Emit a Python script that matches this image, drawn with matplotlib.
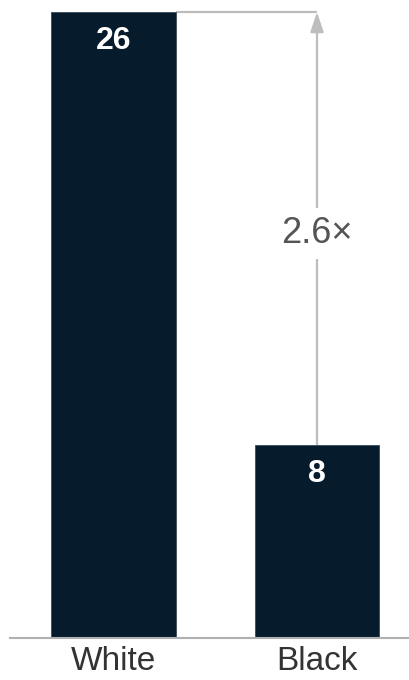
import matplotlib
matplotlib.use("Agg")
import matplotlib.pyplot as plt

categories = ["White", "Black"]
values = [26, 8]
ratio_label = "2.6×"

plt.rcParams['font.family'] = ['Liberation Sans', 'DejaVu Sans']

fig = plt.figure(figsize=(4.1, 6.8), dpi=100)
ax = fig.add_axes([10/410, 42/680, 400/410, 626/680])

x = list(range(len(categories)))
bar_w = 0.614
bars = ax.bar(x, values, width=bar_w, color="#061b2c", edgecolor="#3a4a58", linewidth=0.6, zorder=2)

for xi, v in zip(x, values):
    ax.text(xi, v - 1.2, str(v), ha="center", va="center", color="white",
            fontsize=23, fontweight="bold", zorder=3)

ax.set_xlim(-0.5086, 1.457)
ax.set_ylim(0, 26)

# annotation: horizontal line from top of first bar, then arrow down to second bar
line_c = "#bdbdbd"
ax.plot([x[0] + bar_w/2, x[1]], [values[0], values[0]], color=line_c, lw=1.6,
        solid_capstyle="butt", zorder=1, clip_on=False)
ax.annotate("", xy=(x[1], values[0]), xytext=(x[1], values[1]),
            arrowprops=dict(arrowstyle="-|>,head_length=1.2,head_width=0.4",
                            color=line_c, lw=1.6, shrinkA=0, shrinkB=0),
            zorder=1, annotation_clip=False)
ax.text(x[1], 16.8, ratio_label, ha="center", va="center", fontsize=26,
        color="#555555", zorder=4,
        bbox=dict(facecolor="white", edgecolor="none", pad=6))

for s in ["top", "right", "left"]:
    ax.spines[s].set_visible(False)
ax.spines["bottom"].set_color("#b0b0b0")
ax.spines["bottom"].set_linewidth(1.5)
ax.set_yticks([])
ax.set_xticks(x)
ax.set_xticklabels(categories, fontsize=24, color="#333333")
ax.tick_params(axis="x", length=0, pad=6)

fig.savefig("out.png", dpi=100)
